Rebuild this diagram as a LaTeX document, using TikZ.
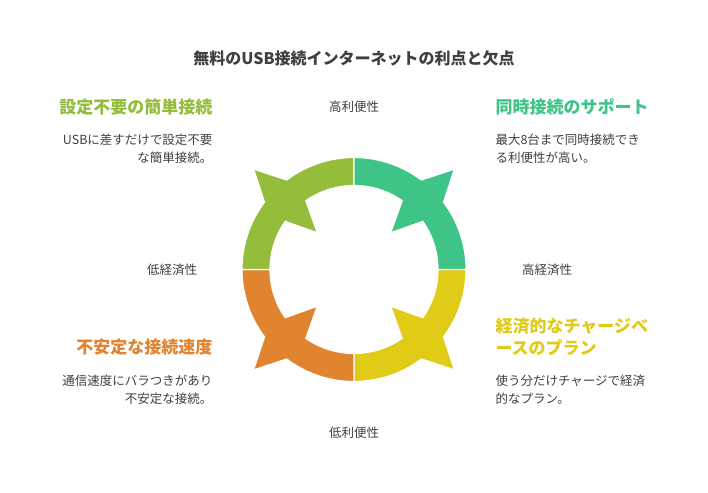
\documentclass[tikz,border=0pt]{standalone}
\usepackage{fontspec}
\setmainfont{Noto Sans CJK JP}
\usepackage{xcolor}
\usepackage{tikz}
\definecolor{cteal}{HTML}{3EC487}
\definecolor{colive}{HTML}{93BD3A}
\definecolor{corange}{HTML}{E08430}
\definecolor{cyellow}{HTML}{E0CB17}
\definecolor{ctext}{HTML}{404040}
\tikzset{
  head/.style={font=\fontsize{17}{22}\selectfont\bfseries, align=left},
  body/.style={font=\fontsize{12.5}{18}\selectfont, text=ctext},
  axis/.style={font=\fontsize{12.5}{15}\selectfont, text=ctext}
}
% one quarter of the ring, centred on angle #1
\newcommand{\ringpart}[2]{%
  \fill[#2, draw=white, line width=1.2pt]
    ($(c)+(#1+45:112)$) arc[start angle=#1+45, end angle=#1+8, radius=112]
    -- ($(c)+(#1:142)$) -- ($(c)+(#1-8:112)$)
    arc[start angle=#1-8, end angle=#1-45, radius=112]
    -- ($(c)+(#1-45:84)$)
    arc[start angle=#1-45, end angle=#1-10, radius=84]
    -- ($(c)+(#1:52)$) -- ($(c)+(#1+10:84)$)
    arc[start angle=#1+10, end angle=#1+45, radius=84] -- cycle;}
\usetikzlibrary{calc}
\begin{document}
\begin{tikzpicture}[x=1pt, y=-1pt]
    \useasboundingbox[fill=white] (0,0) rectangle (708,492);
    \coordinate (c) at (354,269.5);
    % Ring
    \ringpart{45}{cyellow}
    \ringpart{135}{corange}
    \ringpart{225}{colive}
    \ringpart{315}{cteal}
    % Title
    \node[font=\fontsize{16}{20}\selectfont\bfseries, text=ctext] (title) at (354,58) {無料のUSB接続インターネットの利点と欠点};
    % Axis labels
    \node[axis] (top) at (354,107) {高利便性};
    \node[axis] (bottom) at (354,433) {低利便性};
    \node[axis] (left) at (172,270) {低経済性};
    \node[axis] (right) at (547,270) {高経済性};
    % Top left
    \node[head, text=colive, anchor=east] (tlh) at (216,107) {設定不要の簡単接続};
    \node[body, align=right, anchor=north east] (tlb) at (216,130) {USBに差すだけで設定不要\\な簡単接続。};
    % Top right
    \node[head, text=cteal, anchor=west] (trh) at (492,107) {同時接続のサポート};
    \node[body, align=left, anchor=north west] (trb) at (492,130) {最大8台まで同時接続でき\\る利便性が高い。};
    % Bottom left
    \node[head, text=corange, anchor=east] (blh) at (216,347) {不安定な接続速度};
    \node[body, align=right, anchor=north east] (blb) at (216,371) {通信速度にバラつきがあり\\不安定な接続。};
    % Bottom right
    \node[head, text=cyellow, anchor=west] (brh) at (492,337) {経済的なチャージベ\\ースのプラン};
    \node[body, align=left, anchor=north west] (brb) at (492,371) {使う分だけチャージで経済\\的なプラン。};
\end{tikzpicture}
\end{document}
